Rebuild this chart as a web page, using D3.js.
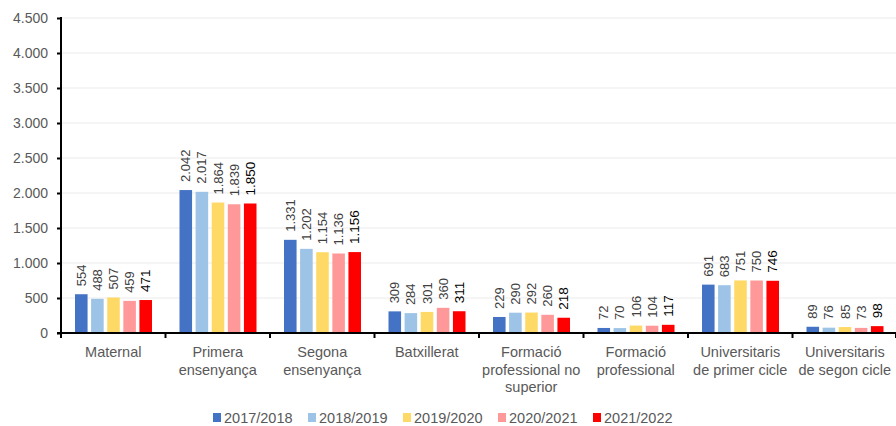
<!DOCTYPE html>
<html>
<head>
<meta charset="utf-8">
<script src="https://cdn.jsdelivr.net/npm/d3@7"></script>
<style>
  body { margin: 0; background: #fff; }
  text { font-family: "Liberation Sans", Arial, sans-serif; }
</style>
</head>
<body>
<svg id="chart" width="896" height="426"></svg>
<script>
var categories = [
    ["Maternal"],
    ["Primera", "ensenyança"],
    ["Segona", "ensenyança"],
    ["Batxillerat"],
    ["Formació", "professional no", "superior"],
    ["Formació", "professional"],
    ["Universitaris", "de primer cicle"],
    ["Universitaris", "de segon cicle"]
];
var years = ["2017/2018", "2018/2019", "2019/2020", "2020/2021", "2021/2022"];
var colors = ["#4472C4", "#9DC3E6", "#FFD966", "#FF9999", "#FF0000"];

var v2017 = [554, 2042, 1331, 309, 229, 72, 691, 89];
var v2018 = [488, 2017, 1202, 284, 290, 70, 683, 76];
var v2019 = [507, 1864, 1154, 301, 292, 106, 751, 85];
var v2020 = [459, 1839, 1136, 360, 260, 104, 750, 73];
var v2021 = [471, 1850, 1156, 311, 218, 117, 746, 98];
var series = [v2017, v2018, v2019, v2020, v2021];

var yTicks = [0, 500, 1000, 1500, 2000, 2500, 3000, 3500, 4000, 4500];

var svg = d3.select("#chart");
var mLeft = 61, mRight = 897, mTop = 18, mBottom = 333;

var locale = d3.formatLocale({ decimal: ",", thousands: ".", grouping: [3], currency: ["", "€"] });
var fmt = locale.format(",d");

var x = d3.scaleBand()
    .domain(d3.range(categories.length))
    .range([mLeft, mRight]);

var xInner = d3.scaleBand()
    .domain(d3.range(years.length))
    .range([14, 91])
    .paddingInner(0.22);

var y = d3.scaleLinear()
    .domain([0, 4500])
    .range([mBottom, mTop]);

// grid
svg.append("g")
    .selectAll("line")
    .data(yTicks.slice(1))
    .enter().append("line")
    .attr("x1", mLeft)
    .attr("x2", mRight)
    .attr("y1", function (d) { return y(d); })
    .attr("y2", function (d) { return y(d); })
    .attr("stroke", "#ebebeb")
    .attr("stroke-width", 1);

// bars
var groups = svg.append("g")
    .selectAll("g")
    .data(series)
    .enter().append("g")
    .attr("fill", function (d, i) { return colors[i]; });

groups.selectAll("rect")
    .data(function (d, i) { return d.map(function (v, c) { return { v: v, c: c, s: i }; }); })
    .enter().append("rect")
    .attr("x", function (d) { return x(d.c) + xInner(d.s); })
    .attr("width", xInner.bandwidth())
    .attr("y", function (d) { return y(d.v); })
    .attr("height", function (d) { return mBottom - y(d.v); });

// value labels, last year in black
groups.selectAll("text")
    .data(function (d, i) { return d.map(function (v, c) { return { v: v, c: c, s: i }; }); })
    .enter().append("text")
    .attr("transform", function (d) {
        var cx = x(d.c) + xInner(d.s) + xInner.bandwidth() / 2;
        return "translate(" + cx + "," + (y(d.v) - 8) + ") rotate(-90)";
    })
    .attr("dy", "0.35em")
    .attr("font-size", function (d) { return d.s === 4 ? "13.5px" : "13px"; })
    .attr("fill", function (d) { return d.s === 4 ? "#000" : "#404040"; })
    .text(function (d) { return fmt(d.v); });

// y axis
var yAxis = svg.append("g")
    .attr("transform", "translate(" + mLeft + ",0)")
    .call(d3.axisLeft(y).tickValues(yTicks).tickSize(4).tickPadding(9).tickFormat(fmt));
yAxis.select(".domain").attr("stroke", "#000").attr("stroke-width", 2).attr("d", "M0," + (mTop - 1) + "V" + (mBottom + 1));
yAxis.selectAll(".tick line").attr("stroke", "#000").attr("stroke-width", 2);
yAxis.selectAll(".tick text")
    .attr("font-size", "14px")
    .attr("font-family", "Liberation Sans, Arial, sans-serif")
    .attr("fill", "#595959");

// x axis
var xAxis = svg.append("g")
    .attr("transform", "translate(0," + mBottom + ")");
xAxis.append("line")
    .attr("x1", mLeft - 4)
    .attr("x2", mRight)
    .attr("stroke", "#000")
    .attr("stroke-width", 2);
xAxis.selectAll(".xtick")
    .data(d3.range(categories.length + 1))
    .enter().append("line")
    .attr("class", "xtick")
    .attr("x1", function (d) { return d < categories.length ? x(d) : mRight - 1; })
    .attr("x2", function (d) { return d < categories.length ? x(d) : mRight - 1; })
    .attr("y1", 0)
    .attr("y2", 5)
    .attr("stroke", "#000")
    .attr("stroke-width", 2);

var catLabels = xAxis.selectAll(".cat")
    .data(categories)
    .enter().append("text")
    .attr("class", "cat")
    .attr("text-anchor", "middle")
    .attr("font-size", "14.5px")
    .attr("fill", "#595959")
    .attr("transform", function (d, i) { return "translate(" + (x(i) + x.bandwidth() / 2) + ",24)"; });

catLabels.selectAll("tspan")
    .data(function (d) { return d; })
    .enter().append("tspan")
    .attr("x", 0)
    .attr("dy", function (d, i) { return i === 0 ? 0 : 17.5; })
    .text(function (d) { return d; });

// legend
var legend = svg.append("g")
    .selectAll("g")
    .data(years)
    .enter().append("g")
    .attr("transform", function (d, i) { return "translate(" + (213 + i * 95) + ",418)"; });

legend.append("rect")
    .attr("x", 0)
    .attr("y", -5)
    .attr("width", 8)
    .attr("height", 9)
    .attr("fill", function (d, i) { return colors[i]; });

legend.append("text")
    .attr("x", 11)
    .attr("dy", "0.35em")
    .attr("font-size", "14.5px")
    .attr("fill", "#595959")
    .text(function (d) { return d; });
</script>
</body>
</html>
